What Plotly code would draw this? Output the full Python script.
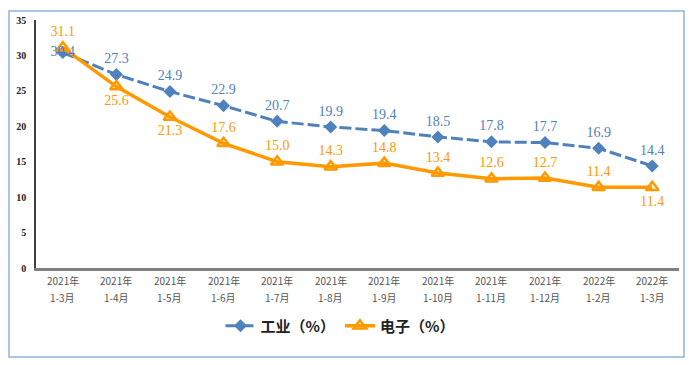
import plotly.graph_objects as go

years = ["2021年", "2021年", "2021年", "2021年", "2021年", "2021年",
         "2021年", "2021年", "2021年", "2021年", "2022年", "2022年"]
periods = ["1-3月", "1-4月", "1-5月", "1-6月", "1-7月", "1-8月",
           "1-9月", "1-10月", "1-11月", "1-12月", "1-2月", "1-3月"]
categories = [y + p for y, p in zip(years, periods)]
industry = [30.4, 27.3, 24.9, 22.9, 20.7, 19.9, 19.4, 18.5, 17.8, 17.7, 16.9, 14.4]
electronics = [31.1, 25.6, 21.3, 17.6, 15.0, 14.3, 14.8, 13.4, 12.6, 12.7, 11.4, 11.4]
ind_label_pos = ["middle center"] + ["top center"] * 11
elec_label_pos = ["top center", "bottom center", "bottom center", "top center", "top center",
                  "top center", "top center", "top center", "top center", "top center",
                  "top center", "bottom center"]

BLUE = "#4F81BD"
ORANGE = "#FF9900"
OFF = 8  # default body margin of the html page
W, H = 697 - OFF, 365 - OFF
L, T = 36 - OFF, 20 - OFF
R = W - (679 - OFF)
B = H - (268 - OFF)
pw, ph = W - L - R, H - T - B


def px_x(x):
    return (x - OFF - L) / pw


def px_y(y):
    return ((268 - OFF) - (y - OFF)) / ph


fig = go.Figure()
fig.add_trace(go.Scatter(
    x=categories, y=industry, name="工业（%）", mode="lines+markers",
    line=dict(color=BLUE, width=3, dash="12px,4px"),
    marker=dict(symbol="diamond", size=10, color=BLUE),
))
fig.add_trace(go.Scatter(
    x=categories, y=electronics, name="电子（%）", mode="lines+markers",
    line=dict(color=ORANGE, width=3.5),
    marker=dict(symbol="triangle-up-open", size=11, color=ORANGE, line=dict(width=2.5, color=ORANGE)),
))
# data labels drawn on top of all lines (invisible markers keep the label offset)
fig.add_trace(go.Scatter(
    x=categories, y=industry, mode="markers+text", showlegend=False, hoverinfo="skip",
    marker=dict(size=11, color="rgba(0,0,0,0)"),
    text=[f"{v:.1f}" for v in industry], textposition=ind_label_pos,
    textfont=dict(family="Liberation Serif", size=14, color=BLUE),
    cliponaxis=False,
))
fig.add_trace(go.Scatter(
    x=categories, y=electronics, mode="markers+text", showlegend=False, hoverinfo="skip",
    marker=dict(size=11, color="rgba(0,0,0,0)"),
    text=[f"{v:.1f}" for v in electronics], textposition=elec_label_pos,
    textfont=dict(family="Liberation Serif", size=14, color=ORANGE),
    cliponaxis=False,
))

annotations = []
for c, yr, pr in zip(categories, years, periods):
    annotations.append(dict(x=c, xref="x", y=px_y(280), yref="paper", text=yr, showarrow=False,
                            yanchor="middle", font=dict(family="Noto Sans CJK SC", size=10, color="#555")))
    annotations.append(dict(x=c, xref="x", y=px_y(297), yref="paper", text=pr, showarrow=False,
                            yanchor="middle", font=dict(family="Noto Sans CJK SC", size=10, color="#555")))

fig.update_layout(
    width=W, height=H,
    margin=dict(l=L, r=R, t=T, b=B, autoexpand=False),
    paper_bgcolor="white", plot_bgcolor="white",
    showlegend=True,
    legend=dict(orientation="h", x=px_x(340), xanchor="center",
                y=px_y(326), yanchor="middle",
                font=dict(family="Noto Sans CJK SC", size=15, color="#222", weight="bold"),
                itemwidth=30),
    xaxis=dict(type="category", showgrid=False, showline=True, linecolor="#808080",
               linewidth=2.5, ticks="", showticklabels=False,
               range=[-0.5, 11.5], fixedrange=True),
    yaxis=dict(range=[0, 35], dtick=5, showgrid=False, showline=True, linecolor="#404040",
               linewidth=1.5, ticks="", zeroline=False, ticklabelstandoff=6,
               tickfont=dict(family="Liberation Serif", size=10, color="#222", weight="bold"),
               fixedrange=True),
    annotations=annotations,
    shapes=[dict(type="rect", xref="paper", yref="paper",
                 x0=px_x(9), x1=px_x(684),
                 y0=px_y(357), y1=px_y(11),
                 line=dict(color="#8DB3E2", width=1.5), fillcolor="rgba(0,0,0,0)", layer="below")],
)
fig.write_html("out.html")
